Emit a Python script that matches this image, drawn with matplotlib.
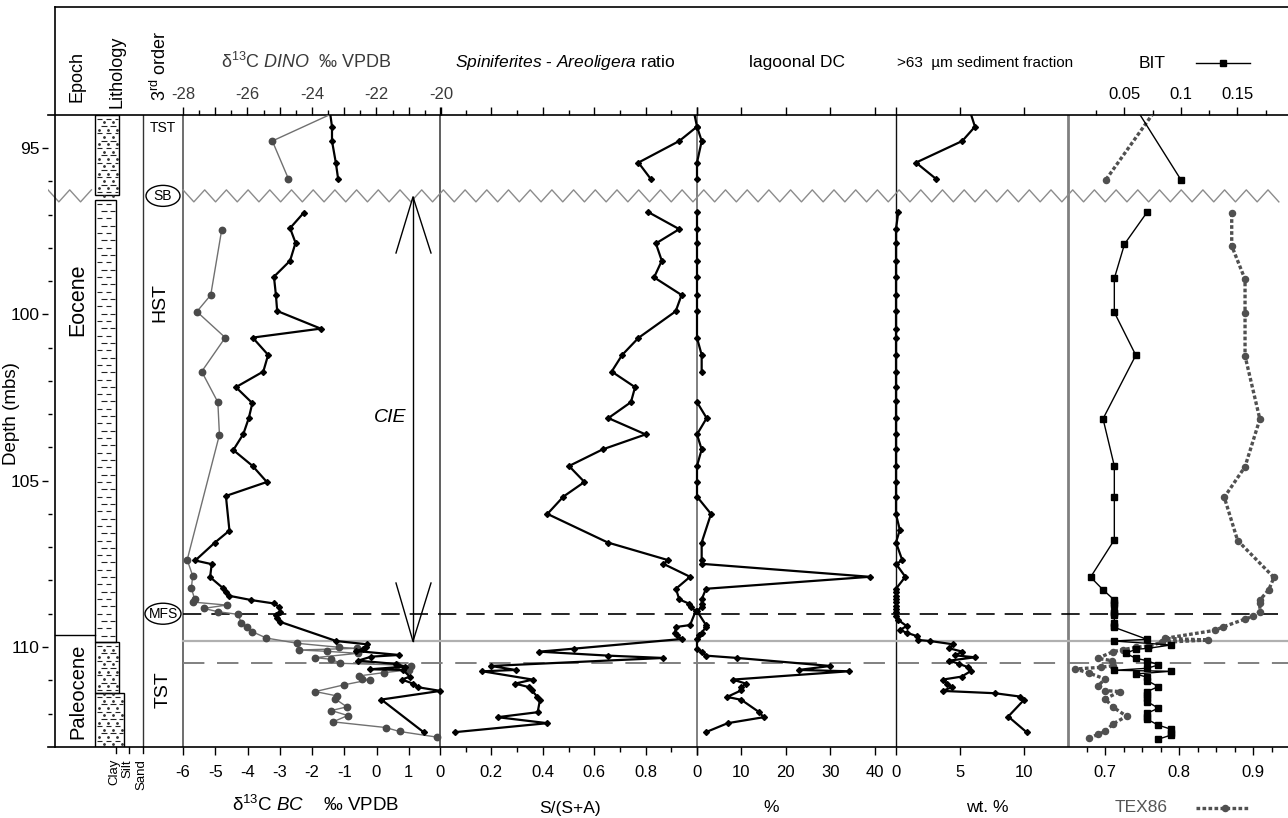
import numpy as np
import matplotlib
matplotlib.use("Agg")
import matplotlib.pyplot as plt
from matplotlib.lines import Line2D
from matplotlib.patches import Ellipse, Rectangle
from matplotlib.collections import LineCollection
from matplotlib.ticker import FixedLocator, FuncFormatter

plt.rcParams['font.family'] = ['Liberation Sans', 'DejaVu Sans']
plt.rcParams['axes.unicode_minus'] = False
plt.rcParams['mathtext.fontset'] = 'custom'
plt.rcParams['mathtext.rm'] = 'Liberation Sans'
plt.rcParams['mathtext.it'] = 'Liberation Sans:italic'
plt.rcParams['mathtext.default'] = 'regular'

nan = np.nan

# ---------------- data ----------------
# bulk carbonate d13C (permil VPDB), black diamonds
bc_depth = [93.80, 94.36, 94.79, 95.45, 95.93, 96.45,
            96.94, 97.41, 97.85, 98.39, 98.87, 99.41, 99.90, 100.43, 100.70, 101.22,
            101.72, 102.19, 102.67, 103.12, 103.60, 104.08, 104.56, 105.04, 105.46, 106.50,
            106.86, 107.40, 107.51, 107.90, 108.23, 108.34, 108.46, 108.59, 108.69, 108.79,
            108.94, 109.04, 109.14, 109.24, 109.82, 109.92, 109.99, 110.06, 110.12, 110.24,
            110.29, 110.41, 110.51, 110.59, 110.67, 110.69, 110.89, 110.98, 111.10, 111.21,
            111.32, 111.58, 112.56]
bc_d13c = [-1.46, -1.38, -1.38, -1.26, -1.19, nan,
           -2.25, -2.68, -2.51, -2.68, -3.18, -3.12, -3.08, -1.73, -3.84, -3.36,
           -3.51, -4.36, -3.85, -3.96, -4.13, -4.44, -3.84, -3.40, -4.67, -4.56,
           -5.01, -5.62, -5.11, -5.16, -4.76, -4.68, -4.57, -3.88, -3.19, -3.02,
           -2.98, -3.11, -3.09, -3.00, -1.25, -0.29, -0.34, -0.42, -0.63, 0.70,
           -0.16, -0.57, 0.61, 0.87, -0.19, 0.82, 1.03, 0.79, 1.13, 1.29,
           1.98, 0.15, 1.46]

# dinocyst d13C (permil VPDB), grey circles
dino_depth = [93.80, 94.79, 95.93, 96.45,
              97.46, 99.42, 99.92, 100.70, 101.72, 102.64, 103.62, 107.38, 107.86, 108.23,
              108.56, 108.65, 108.74, 108.84, 108.94, 109.02, 109.29, 109.39, 109.54, 109.73,
              109.89, 110.01, 110.04, 110.09, 110.13, 110.19, 110.32, 110.37, 110.49, 110.54,
              110.57, 110.69, 110.77, 110.87, 110.96, 110.98, 111.14, 111.34, 111.47, 111.56,
              111.80, 111.91, 112.06, 112.25, 112.42, 112.54, 112.71]
dino_d13c = [-23.00, -25.23, -24.73, nan,
             -26.80, -27.14, -27.57, -26.69, -27.42, -26.92, -26.87, -27.87, -27.70, -27.74,
             -27.64, -27.69, -26.65, -27.36, -26.91, -26.29, -26.19, -26.03, -25.85, -25.42,
             -24.45, -23.15, -22.62, -24.39, -23.54, -22.58, -23.90, -23.40, -23.12, -21.36,
             -20.94, -21.00, -21.77, -22.55, -22.45, -22.19, -23.02, -23.90, -23.23, -23.28,
             -22.92, -23.40, -22.89, -23.35, -21.72, -21.28, -20.12]

# palynology samples: Spiniferites/Areoligera ratio and lagoonal dinocysts (%)
pal_depth = [93.80, 94.36, 94.79, 95.44, 95.93, 96.45,
             96.93, 97.44, 97.87, 98.39, 98.89, 99.42, 99.91, 100.71, 101.22, 101.72,
             102.19, 102.64, 103.12, 103.61, 104.06, 104.56, 105.04, 105.48, 106.00, 106.86,
             107.39, 107.50, 107.89, 108.25, 108.57, 108.70, 108.80, 108.92, 109.34, 109.40,
             109.57, 109.64, 109.76, 110.05, 110.14, 110.26, 110.33, 110.57, 110.69, 110.73,
             110.98, 111.10, 111.21, 111.30, 111.50, 111.59, 111.96, 112.11, 112.29, 112.56]
sa_ratio = [0.985, 1.000, 0.931, 0.772, 0.820, nan,
            0.811, 0.931, 0.840, 0.863, 0.833, 0.940, 0.917, 0.772, 0.709, 0.668,
            0.759, 0.743, 0.655, 0.800, 0.633, 0.502, 0.562, 0.480, 0.418, 0.653,
            0.888, 0.869, 0.973, 0.918, 0.931, 0.970, 0.975, 0.995, 0.973, 0.918,
            0.914, 0.921, 0.940, 0.521, 0.386, 0.655, 0.869, 0.198, 0.294, 0.165,
            0.361, 0.292, 0.348, 0.357, 0.379, 0.389, 0.380, 0.224, 0.418, 0.058]
lagoonal_dc = [nan, 0.0, 1.06, 0.0, 0.0, nan,
               0.0, 0.0, 0.0, 0.0, 0.0, 0.0, 0.0, 0.0, 1.05, 1.05,
               nan, 0.0, 2.17, 0.0, 1.05, 0.0, 0.0, 0.0, 3.15, 1.05,
               1.05, 1.05, 38.9, 2.02, 1.05, 1.05, 1.05, 0.0, 2.02, 2.02,
               1.05, 0.5, 0.0, 0.0, 1.05, 2.02, 9.1, 30.0, 22.9, 34.2,
               8.0, 11.0, 10.0, 10.0, 6.8, 10.0, 14.0, 15.0, 6.9, 2.0]

# >63 um sediment fraction (wt. %)
sed_depth = [93.80, 94.36, 94.79, 95.44, 95.93, 96.45,
             96.93, 97.43, 97.87, 98.39, 98.89, 99.42, 99.91, 100.44, 100.71, 101.22,
             101.72, 102.19, 102.62, 103.11, 103.60, 104.06, 104.56, 105.04, 105.48, 106.01,
             106.48, 106.86, 107.40, 107.50, 107.89, 108.25, 108.36, 108.46, 108.56, 108.66,
             108.76, 108.86, 108.96, 109.06, 109.19, 109.37, 109.49, 109.57, 109.67, 109.79,
             109.82, 109.92, 110.04, 110.14, 110.25, 110.31, 110.41, 110.51, 110.61, 110.72,
             110.89, 110.98, 111.10, 111.21, 111.32, 111.39, 111.49, 111.59, 112.09, 112.56]
sand_wt = [5.70, 6.17, 5.18, 1.56, 3.13, nan,
           0.18, 0.0, 0.0, 0.0, 0.0, 0.0, 0.0, 0.0, 0.0, 0.0,
           0.0, 0.0, 0.0, 0.0, 0.0, 0.0, 0.0, 0.0, 0.0, 0.0,
           0.30, 0.0, 0.50, 0.0, 0.73, 0.0, 0.0, 0.0, 0.0, 0.0,
           0.0, 0.0, 0.0, 0.0, 0.18, 0.83, 0.31, 0.83, 1.61, 1.74,
           2.66, 4.48, 4.17, 5.18, 4.61, 6.17, 4.17, 4.95, 5.65, 5.86,
           5.13, 3.65, 4.01, 4.35, 3.65, 7.74, 9.69, 10.00, 8.77, 10.20]

# BIT index
bit_depth = [93.80, 95.96, 96.45,
             96.93, 97.89, 98.92, 99.94, 101.23, 103.14, 104.56, 105.50, 106.78, 107.90,
             108.28, 108.59, 108.69, 108.74, 108.94, 108.99, 109.04, 109.29, 109.36, 109.41,
             109.77, 109.82, 109.94, 110.04, 110.07, 110.19, 110.34, 110.41, 110.54, 110.64,
             110.70, 110.73, 110.81, 110.91, 111.01, 111.19, 111.34, 111.44, 111.54, 111.64,
             111.84, 111.99, 112.09, 112.17, 112.35, 112.47, 112.59, 112.65, 112.77]
bit = [0.060, 0.100, nan,
       0.070, 0.050, 0.041, 0.041, 0.060, 0.031, 0.041, 0.041, 0.041, 0.020,
       0.031, 0.041, 0.041, 0.041, 0.041, 0.041, 0.041, 0.041, 0.041, 0.041,
       0.070, 0.041, 0.091, 0.071, 0.060, 0.051, 0.060, 0.070, 0.080, 0.070,
       0.041, 0.091, 0.060, 0.070, 0.070, 0.080, 0.070, 0.070, 0.070, 0.070,
       0.080, 0.070, 0.070, 0.070, 0.080, 0.091, 0.091, 0.091, 0.080]

# TEX86
tex_depth = [93.80, 95.96, 96.45,
             96.96, 97.94, 98.95, 99.97, 101.25, 103.15, 104.58, 105.50, 106.80, 107.91,
             108.28, 108.59, 108.69, 108.94, 109.08, 109.16, 109.40, 109.50, 109.74, 109.79,
             109.86, 109.96, 110.01, 110.08, 110.14, 110.34, 110.41, 110.56, 110.61, 110.66,
             110.79, 110.96, 111.16, 111.31, 111.34, 111.56, 111.81, 112.08, 112.31, 112.54,
             112.63, 112.74]
tex86 = [0.770, 0.701, nan,
         0.871, 0.871, 0.889, 0.889, 0.889, 0.909, 0.889, 0.861, 0.879, 0.928,
         0.921, 0.909, 0.909, 0.909, 0.900, 0.889, 0.859, 0.848, 0.781, 0.839,
         0.777, 0.760, 0.742, 0.724, 0.711, 0.690, 0.709, 0.711, 0.695, 0.660,
         0.679, 0.700, 0.691, 0.700, 0.720, 0.700, 0.711, 0.729, 0.711, 0.700,
         0.690, 0.679]

# stratigraphic surfaces and intervals (m below surface)
sb_depth = 96.44
mfs_depth = 109.0
cie_onset_depth = 109.83
tst_base_depth = 110.48
epoch_boundary = 109.64
cie_top = 96.47
# lithology intervals: top, base, grain-size edge (px), silty
litho_units = [(94.0, 96.41, 119, True),
               (96.56, 109.85, 116, False),
               (109.85, 111.38, 119, True),
               (111.38, 113.0, 124, True)]

# ---------------- layout ----------------
W, H, DPI = 1288, 818, 100
fig = plt.figure(figsize=(W / DPI, H / DPI), dpi=DPI)
Y_TOP, Y_BOT = 114.7, 746.8
D_TOP, D_BOT = 94.0, 113.0


def px_rect(x0, x1):
    return [x0 / W, 1 - Y_BOT / H, (x1 - x0) / W, (Y_BOT - Y_TOP) / H]


def fx(x):
    return x / W


def fy(y):
    return 1 - y / H


def dep(y):
    return D_TOP + (y - Y_TOP) * (D_BOT - D_TOP) / (Y_BOT - Y_TOP)


# base axes in pixel x-units carrying the depth scale and the decorations
base = fig.add_axes(px_rect(48, 1288))
base.set_xlim(48, 1288)
base.set_ylim(D_BOT, D_TOP)
base.patch.set_visible(False)
for s in ('left', 'right'):
    base.spines[s].set_visible(False)
for s in ('top', 'bottom'):
    base.spines[s].set_linewidth(1.2)
base.set_xticks([])
base.yaxis.set_major_locator(FixedLocator([95, 100, 105, 110]))
base.yaxis.set_minor_locator(FixedLocator([96, 97, 98, 99, 101, 102, 103, 104, 106, 107, 108, 109, 111, 112]))
base.tick_params(axis='y', which='major', direction='out', length=4, width=1, labelsize=12.5, pad=2)
base.tick_params(axis='y', which='minor', direction='in', length=3, width=1)

PAD = 10


def panel(x0, x1, v0, v1):
    """Axes spanning x0..x1 px for values v0..v1, widened by PAD px so edge traces are not cut."""
    k = (v1 - v0) / (x1 - x0)
    ax = fig.add_axes(px_rect(x0 - PAD, x1 + PAD))
    ax.set_xlim(v0 - PAD * k, v1 + PAD * k)
    ax.set_ylim(D_BOT, D_TOP)
    ax.patch.set_visible(False)
    for s in ax.spines.values():
        s.set_visible(False)
    ax.set_yticks([])
    return ax


def set_lims(ax, x0, x1, v0, v1):
    k = (v1 - v0) / (x1 - x0)
    ax.set_xlim(v0 - PAD * k, v1 + PAD * k)


def bottom_ticks(ax, major, minor=None, labels=None, size=12, color='k'):
    ax.xaxis.set_major_locator(FixedLocator(major))
    if minor is not None:
        ax.xaxis.set_minor_locator(FixedLocator(minor))
    if labels is not None:
        ax.xaxis.set_major_formatter(FuncFormatter(lambda v, p: labels.get(round(v, 4), '')))
    ax.tick_params(axis='x', which='major', bottom=True, top=True, labelbottom=True, labeltop=False,
                   direction='out', length=6, width=1, labelsize=size, pad=7, labelcolor=color)
    ax.tick_params(axis='x', which='minor', bottom=True, top=True, direction='out', length=3.5, width=1)


# d13C panel (bulk carbonate, bottom axis) with dinocyst scale on top
ax_c = panel(183, 441, -6, 2)
bottom_ticks(ax_c, [-6, -5, -4, -3, -2, -1, 0, 1],
             labels={-6: '-6', -5: '-5', -4: '-4', -3: '-3', -2: '-2', -1: '-1', 0: '0', 1: '1'})
ax_c.tick_params(axis='x', which='both', top=False)
ax_d = ax_c.twiny()
ax_d.patch.set_visible(False)
for s in ax_d.spines.values():
    s.set_visible(False)
set_lims(ax_d, 183, 441, -28, -20)
ax_d.set_ylim(D_BOT, D_TOP)
ax_d.xaxis.set_major_locator(FixedLocator(list(range(-28, -19))))
ax_d.xaxis.set_minor_locator(FixedLocator([v + 0.5 for v in range(-28, -20)]))
ax_d.xaxis.set_major_formatter(FuncFormatter(lambda v, p: '%d' % v if round(v) % 2 == 0 else ''))
ax_d.tick_params(axis='x', which='major', top=True, bottom=False, labeltop=True, labelbottom=False,
                 direction='out', length=6, width=1, labelsize=12, pad=3, labelcolor='#3a3a3a')
ax_d.tick_params(axis='x', which='minor', top=True, bottom=False, direction='out', length=3.5, width=1)
ax_c.set_zorder(5)
ax_d.set_zorder(4)

ax_d.plot(dino_d13c, dino_depth, color='#707070', lw=1.0, marker='o', ms=4.6,
          mfc='#4a4a4a', mec='#4a4a4a')
ax_c.plot(bc_d13c, bc_depth, color='k', lw=1.6, marker='D', ms=3.0)

# Spiniferites / Areoligera ratio
ax_s = panel(440, 697, 0, 1)
bottom_ticks(ax_s, [0, 0.2, 0.4, 0.6, 0.8, 1.0], minor=[0.1, 0.3, 0.5, 0.7, 0.9],
             labels={0: '0', 0.2: '0.2', 0.4: '0.4', 0.6: '0.6', 0.8: '0.8'})
ax_s.plot(sa_ratio, pal_depth, color='k', lw=1.6, marker='D', ms=3.0)

# lagoonal dinocysts
ax_dc = panel(697, 897, 0, 45)
bottom_ticks(ax_dc, [0, 10, 20, 30, 40], labels={0: '0', 10: '10', 20: '20', 30: '30', 40: '40'})
ax_dc.plot(lagoonal_dc, pal_depth, color='k', lw=1.6, marker='D', ms=3.0)

# >63 um fraction
ax_w = panel(896, 1068, 0, 13.44)
bottom_ticks(ax_w, [0, 5, 10], labels={0: '0', 5: '5', 10: '10'})
ax_w.plot(sand_wt, sed_depth, color='k', lw=1.6, marker='D', ms=3.0)

# TEX86 (bottom) and BIT (top)
ax_t = panel(1068, 1288, 0.65, 0.947)
bottom_ticks(ax_t, [0.7, 0.8, 0.9],
             minor=[0.675, 0.725, 0.75, 0.775, 0.825, 0.85, 0.875, 0.925],
             labels={0.7: '0.7', 0.8: '0.8', 0.9: '0.9'})
ax_t.tick_params(axis='x', which='both', top=False)
ax_b = ax_t.twiny()
ax_b.patch.set_visible(False)
for s in ax_b.spines.values():
    s.set_visible(False)
set_lims(ax_b, 1068, 1288, 0.0, 0.1947)
ax_b.set_ylim(D_BOT, D_TOP)
ax_b.xaxis.set_major_locator(FixedLocator([0.05, 0.1, 0.15]))
ax_b.xaxis.set_minor_locator(FixedLocator([0.025, 0.075, 0.125, 0.175]))
ax_b.xaxis.set_major_formatter(FuncFormatter(lambda v, p: '%g' % round(v, 3)))
ax_b.tick_params(axis='x', which='major', top=True, bottom=False, labeltop=True, labelbottom=False,
                 direction='out', length=6, width=1, labelsize=12, pad=3)
ax_b.tick_params(axis='x', which='minor', top=True, bottom=False, direction='out', length=3.5, width=1)

TEX_STYLE = dict(color='#505050', lw=2.4, ls=(0, (1.1, 0.7)), marker='o', ms=4.4,
                 mfc='#505050', mec='#505050')
BIT_STYLE = dict(color='k', lw=1.0, marker='s', ms=5.0)
ax_t.plot(tex86, tex_depth, **TEX_STYLE)
ax_b.plot(bit, bit_depth, **BIT_STYLE)

# ---------------- decorations on the base axes ----------------
# column separators
for x, c, lw in [(143, '#333333', 1.0), (183, '#555555', 1.2), (440, '#444444', 1.2),
                 (697, '#6a6a6a', 1.2), (896, '#111111', 1.0), (1068, '#808080', 2.0)]:
    base.plot([x, x], [D_TOP, D_BOT], color=c, lw=lw, zorder=1)

# epoch boundary
base.plot([55, 95], [epoch_boundary, epoch_boundary], color='k', lw=1.0)

# lithology column: clay dashes, silt dots
segs = []
dots_x, dots_y = [], []
for top, bot, xr, silty in litho_units:
    base.add_patch(Rectangle((95, top), xr - 95, bot - top, fill=False, ec='k', lw=1.0, zorder=3))
    rows = np.arange(top + 0.12, bot - 0.04, 0.22)
    for i, r in enumerate(rows):
        start = 96.5 if i % 2 == 0 else 101
        for xs in np.arange(start, xr - 3, 9):
            segs.append([(xs, r), (min(xs + 5.5, xr - 1), r)])
        if silty:
            for xs in np.arange(99 if i % 2 else 103.5, xr - 1.5, 9):
                dots_x.append(xs)
                dots_y.append(r + 0.11)
base.add_collection(LineCollection(segs, colors='#222222', linewidths=0.8, zorder=3))
base.plot(dots_x, dots_y, ls='none', marker='.', ms=2.0, color='#333333', zorder=3)

# grain size ticks below the lithology column
for x, lab in [(116, 'Clay'), (129, 'Silt'), (143, 'Sand')]:
    base.plot([x, x], [D_BOT, dep(753)], color='k', lw=1.0, clip_on=False)
    fig.text(fx(x - 2), fy(759), lab, rotation=90, ha='center', va='top', fontsize=9.5)

# sequence boundary zigzag
zig_amp = dep(202) - dep(196)
for xa, xb in [(48, 93), (183, 1288)]:
    xs = np.arange(xa, xb + 0.1, 10.85)
    ys = sb_depth + zig_amp * np.where(np.arange(len(xs)) % 2 == 0, -1, 1)
    base.plot(xs, ys, color='#8c8c8c', lw=1.0, zorder=2)

# surfaces
base.plot([183, 1288], [mfs_depth, mfs_depth], color='k', lw=1.2, ls=(0, (11, 6)), zorder=2)
base.plot([183, 1288], [cie_onset_depth, cie_onset_depth], color='#b0b0b0', lw=1.6, zorder=2)
base.plot([183, 1288], [tst_base_depth, tst_base_depth], color='#808080', lw=1.4, ls=(0, (11, 6.5)), zorder=2)

# SB / MFS labels
for d, lab, w in [(sb_depth, 'SB', 34), (mfs_depth, 'MFS', 36)]:
    base.add_patch(Ellipse((163, d), w, dep(21) - dep(0), fc='white', ec='k', lw=1.0, zorder=4))
    base.text(163, d, lab, ha='center', va='center', fontsize=10, zorder=5)

base.text(163, dep(128), 'TST', ha='center', va='center', fontsize=10)
base.text(160, dep(302), 'HST', ha='center', va='center', fontsize=14, rotation=90)
base.text(163, dep(690), 'TST', ha='center', va='center', fontsize=14, rotation=90)

base.text(78, dep(300), 'Eocene', ha='center', va='center', fontsize=15.5, rotation=90)
base.text(78, dep(691), 'Paleocene', ha='center', va='center', fontsize=14.5, rotation=90)

# CIE arrow
cie_x = 413
base.plot([cie_x, cie_x], [cie_top, cie_onset_depth], color='k', lw=1.0, zorder=3)
for tip, arm in [(cie_top, dep(253)), (cie_onset_depth, dep(583))]:
    base.plot([cie_x - 17, cie_x, cie_x + 18], [arm, tip, arm], color='k', lw=1.0, zorder=3)
base.text(390, dep(417), 'CIE', ha='center', va='center', fontsize=14, style='italic')

# ---------------- frame and header ----------------
fig.add_artist(Line2D([fx(55), fx(1288)], [fy(7), fy(7)], color='k', lw=1.2))
fig.add_artist(Line2D([fx(55), fx(55)], [fy(7), fy(Y_BOT)], color='k', lw=1.2))

fig.text(fx(12), fy(414), 'Depth (mbs)', rotation=90, ha='center', va='center', fontsize=13.5)

fig.text(fx(77), fy(77), 'Epoch', rotation=90, ha='center', va='center', fontsize=13)
fig.text(fx(117), fy(72), 'Lithology', rotation=90, ha='center', va='center', fontsize=13)
fig.text(fx(160), fy(66), '3$^{rd}$ order', rotation=90, ha='center', va='center', fontsize=13)

fig.text(fx(306), fy(62), r'$\delta^{13}$C $\it{DINO}$  ‰ VPDB', ha='center', va='center',
         fontsize=13, color='#3a3a3a')
fig.text(fx(565), fy(63), r'$\it{Spiniferites}$ - $\it{Areoligera}$ ratio', ha='center', va='center',
         fontsize=12.5)
fig.text(fx(797), fy(63), 'lagoonal DC', ha='center', va='center', fontsize=12.5)
fig.text(fx(985), fy(63), '>63  µm sediment fraction', ha='center', va='center', fontsize=11,
         family=['Liberation Sans Narrow', 'Liberation Sans', 'DejaVu Sans'])
fig.text(fx(1152), fy(63), 'BIT', ha='center', va='center', fontsize=12.5)

fig.text(fx(316), fy(805), r'$\delta^{13}$C $\it{BC}$    ‰ VPDB', ha='center', va='center', fontsize=13.5)
fig.text(fx(570), fy(808), 'S/(S+A)', ha='center', va='center', fontsize=12.5)
fig.text(fx(771), fy(808), '%', ha='center', va='center', fontsize=12.5)
fig.text(fx(987), fy(808), 'wt. %', ha='center', va='center', fontsize=12.5)
fig.text(fx(1141), fy(808), 'TEX86', ha='center', va='center', fontsize=12.5, color='#555555')

# legend keys for BIT and TEX86
fig.add_artist(Line2D([fx(1196), fx(1250)], [fy(63), fy(63)], color='k', lw=1.0))
fig.add_artist(Line2D([fx(1223)], [fy(63)], color='k', marker='s', ms=5.0))
fig.add_artist(Line2D([fx(1196), fx(1250)], [fy(808), fy(808)], color='#505050', lw=2.4, ls=(0, (1.1, 0.7))))
fig.add_artist(Line2D([fx(1225)], [fy(808)], color='#505050', marker='o', ms=4.4))

fig.savefig('out.png', dpi=DPI)
